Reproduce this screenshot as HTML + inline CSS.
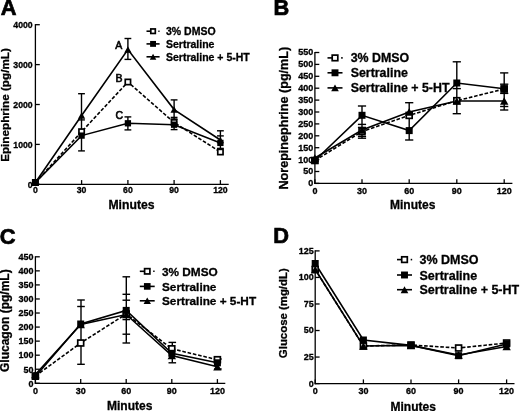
<!DOCTYPE html>
<html><head><meta charset="utf-8"><style>
html,body{margin:0;padding:0;background:#fff;}
body{width:520px;height:411px;overflow:hidden;}
svg{display:block;font-family:"Liberation Sans", sans-serif;will-change:transform;}
</style></head><body>
<svg width="520" height="411" viewBox="0 0 520 411">
<rect width="520" height="411" fill="#fff"/>
<text x="0.80" y="15.10" font-size="21.8" text-anchor="start" font-weight="bold" stroke="#000" stroke-width="0.7">A</text>
<line x1="35.40" y1="24.10" x2="35.40" y2="184.90" stroke="#000" stroke-width="1.3"/>
<line x1="34.80" y1="184.30" x2="228.70" y2="184.30" stroke="#000" stroke-width="1.3"/>
<line x1="35.40" y1="24.70" x2="39.80" y2="24.70" stroke="#000" stroke-width="1.3"/>
<text transform="translate(32.70,28.08) scale(1.0,1.08)" font-size="8.7" text-anchor="end" font-weight="bold" stroke="#000" stroke-width="0.3">4000</text>
<line x1="35.40" y1="64.60" x2="39.80" y2="64.60" stroke="#000" stroke-width="1.3"/>
<text transform="translate(32.70,67.98) scale(1.0,1.08)" font-size="8.7" text-anchor="end" font-weight="bold" stroke="#000" stroke-width="0.3">3000</text>
<line x1="35.40" y1="104.50" x2="39.80" y2="104.50" stroke="#000" stroke-width="1.3"/>
<text transform="translate(32.70,107.88) scale(1.0,1.08)" font-size="8.7" text-anchor="end" font-weight="bold" stroke="#000" stroke-width="0.3">2000</text>
<line x1="35.40" y1="144.40" x2="39.80" y2="144.40" stroke="#000" stroke-width="1.3"/>
<text transform="translate(32.70,147.78) scale(1.0,1.08)" font-size="8.7" text-anchor="end" font-weight="bold" stroke="#000" stroke-width="0.3">1000</text>
<line x1="35.40" y1="184.30" x2="39.80" y2="184.30" stroke="#000" stroke-width="1.3"/>
<text transform="translate(32.70,187.68) scale(1.0,1.08)" font-size="8.7" text-anchor="end" font-weight="bold" stroke="#000" stroke-width="0.3">0</text>
<line x1="35.40" y1="184.30" x2="35.40" y2="180.10" stroke="#000" stroke-width="1.3"/>
<text transform="translate(35.40,193.43) scale(1.0,1.08)" font-size="8.7" text-anchor="middle" font-weight="bold" stroke="#000" stroke-width="0.3">0</text>
<line x1="81.60" y1="184.30" x2="81.60" y2="180.10" stroke="#000" stroke-width="1.3"/>
<text transform="translate(81.60,193.43) scale(1.0,1.08)" font-size="8.7" text-anchor="middle" font-weight="bold" stroke="#000" stroke-width="0.3">30</text>
<line x1="127.90" y1="184.30" x2="127.90" y2="180.10" stroke="#000" stroke-width="1.3"/>
<text transform="translate(127.90,193.43) scale(1.0,1.08)" font-size="8.7" text-anchor="middle" font-weight="bold" stroke="#000" stroke-width="0.3">60</text>
<line x1="174.10" y1="184.30" x2="174.10" y2="180.10" stroke="#000" stroke-width="1.3"/>
<text transform="translate(174.10,193.43) scale(1.0,1.08)" font-size="8.7" text-anchor="middle" font-weight="bold" stroke="#000" stroke-width="0.3">90</text>
<line x1="220.40" y1="184.30" x2="220.40" y2="180.10" stroke="#000" stroke-width="1.3"/>
<text transform="translate(220.40,193.43) scale(1.0,1.08)" font-size="8.7" text-anchor="middle" font-weight="bold" stroke="#000" stroke-width="0.3">120</text>
<text transform="translate(9.00,105.00) rotate(-90)" x="0" y="0" font-size="11.7" text-anchor="middle" font-weight="bold" stroke="#000" stroke-width="0.3">Epinephrine (pg/mL)</text>
<text x="131.50" y="209.20" font-size="12.2" text-anchor="middle" font-weight="bold" stroke="#000" stroke-width="0.3">Minutes</text>
<line x1="81.50" y1="93.70" x2="81.50" y2="150.90" stroke="#000" stroke-width="1.4"/>
<line x1="78.10" y1="93.70" x2="84.90" y2="93.70" stroke="#000" stroke-width="1.4"/>
<line x1="78.10" y1="150.90" x2="84.90" y2="150.90" stroke="#000" stroke-width="1.4"/>
<line x1="78.10" y1="119.90" x2="84.90" y2="119.90" stroke="#000" stroke-width="1.4"/>
<line x1="127.90" y1="38.50" x2="127.90" y2="59.40" stroke="#000" stroke-width="1.4"/>
<line x1="124.50" y1="38.50" x2="131.30" y2="38.50" stroke="#000" stroke-width="1.4"/>
<line x1="124.50" y1="59.40" x2="131.30" y2="59.40" stroke="#000" stroke-width="1.4"/>
<line x1="127.90" y1="116.90" x2="127.90" y2="129.90" stroke="#000" stroke-width="1.4"/>
<line x1="124.50" y1="116.90" x2="131.30" y2="116.90" stroke="#000" stroke-width="1.4"/>
<line x1="124.50" y1="129.90" x2="131.30" y2="129.90" stroke="#000" stroke-width="1.4"/>
<line x1="174.10" y1="99.90" x2="174.10" y2="129.60" stroke="#000" stroke-width="1.4"/>
<line x1="170.70" y1="99.90" x2="177.50" y2="99.90" stroke="#000" stroke-width="1.4"/>
<line x1="170.70" y1="129.60" x2="177.50" y2="129.60" stroke="#000" stroke-width="1.4"/>
<line x1="170.70" y1="117.40" x2="177.50" y2="117.40" stroke="#000" stroke-width="1.4"/>
<line x1="170.70" y1="119.00" x2="177.50" y2="119.00" stroke="#000" stroke-width="1.4"/>
<line x1="220.40" y1="130.80" x2="220.40" y2="148.40" stroke="#000" stroke-width="1.4"/>
<line x1="217.00" y1="130.80" x2="223.80" y2="130.80" stroke="#000" stroke-width="1.4"/>
<line x1="217.00" y1="148.40" x2="223.80" y2="148.40" stroke="#000" stroke-width="1.4"/>
<line x1="217.00" y1="135.90" x2="223.80" y2="135.90" stroke="#000" stroke-width="1.4"/>
<polyline points="35.40,182.50 81.60,131.70 127.90,82.00 174.10,122.50 220.40,152.00" fill="none" stroke="#000" stroke-width="1.6" stroke-linejoin="miter" stroke-dasharray="3.6 1.8"/>
<polyline points="35.40,182.50 81.60,135.60 127.90,123.30 174.10,124.70 220.40,142.90" fill="none" stroke="#000" stroke-width="1.6" stroke-linejoin="miter"/>
<polyline points="35.40,182.50 81.60,115.50 127.90,49.60 174.10,109.60 220.40,140.00" fill="none" stroke="#000" stroke-width="1.6" stroke-linejoin="miter"/>
<rect x="32.75" y="179.85" width="5.30" height="5.30" fill="#fff" stroke="#000" stroke-width="1.7"/>
<rect x="78.95" y="129.05" width="5.30" height="5.30" fill="#fff" stroke="#000" stroke-width="1.7"/>
<rect x="125.25" y="79.35" width="5.30" height="5.30" fill="#fff" stroke="#000" stroke-width="1.7"/>
<rect x="171.45" y="119.85" width="5.30" height="5.30" fill="#fff" stroke="#000" stroke-width="1.7"/>
<rect x="217.75" y="149.35" width="5.30" height="5.30" fill="#fff" stroke="#000" stroke-width="1.7"/>
<rect x="32.25" y="179.35" width="6.30" height="6.30" fill="#000"/>
<rect x="78.45" y="132.45" width="6.30" height="6.30" fill="#000"/>
<rect x="124.75" y="120.15" width="6.30" height="6.30" fill="#000"/>
<rect x="170.95" y="121.55" width="6.30" height="6.30" fill="#000"/>
<rect x="217.25" y="139.75" width="6.30" height="6.30" fill="#000"/>
<polygon points="31.80,185.74 39.00,185.74 35.40,179.26" fill="#000"/>
<polygon points="78.00,118.74 85.20,118.74 81.60,112.26" fill="#000"/>
<polygon points="124.30,52.84 131.50,52.84 127.90,46.36" fill="#000"/>
<polygon points="170.50,112.84 177.70,112.84 174.10,106.36" fill="#000"/>
<polygon points="216.80,143.24 224.00,143.24 220.40,136.76" fill="#000"/>
<text x="115.30" y="48.60" font-size="10.5" text-anchor="start" font-weight="normal" stroke="#000" stroke-width="0.6">A</text>
<text x="115.40" y="81.90" font-size="10.5" text-anchor="start" font-weight="normal" stroke="#000" stroke-width="0.6">B</text>
<text x="115.60" y="118.60" font-size="10.5" text-anchor="start" font-weight="normal" stroke="#000" stroke-width="0.6">C</text>
<line x1="146.50" y1="31.20" x2="150.05" y2="31.20" stroke="#000" stroke-width="1.6"/>
<line x1="158.32" y1="31.20" x2="159.56" y2="31.20" stroke="#000" stroke-width="1.6"/>
<rect x="150.80" y="28.95" width="4.50" height="4.50" fill="#fff" stroke="#000" stroke-width="1.7"/>
<text x="166.00" y="34.98" font-size="10.5" text-anchor="start" font-weight="bold" stroke="#000" stroke-width="0.3">3% DMSO</text>
<line x1="146.50" y1="43.90" x2="159.60" y2="43.90" stroke="#000" stroke-width="1.6"/>
<rect x="150.11" y="40.95" width="5.89" height="5.89" fill="#000"/>
<text x="166.00" y="47.68" font-size="10.5" text-anchor="start" font-weight="bold" stroke="#000" stroke-width="0.3">Sertraline</text>
<line x1="146.50" y1="56.80" x2="159.60" y2="56.80" stroke="#000" stroke-width="1.6"/>
<polygon points="149.80,59.73 156.31,59.73 153.05,53.87" fill="#000"/>
<text x="166.00" y="60.58" font-size="10.5" text-anchor="start" font-weight="bold" stroke="#000" stroke-width="0.3">Sertraline + 5-HT</text>
<text x="273.40" y="15.40" font-size="21.8" text-anchor="start" font-weight="bold" stroke="#000" stroke-width="0.7">B</text>
<line x1="314.90" y1="51.90" x2="314.90" y2="184.00" stroke="#000" stroke-width="1.3"/>
<line x1="314.30" y1="183.40" x2="512.40" y2="183.40" stroke="#000" stroke-width="1.3"/>
<line x1="314.90" y1="52.50" x2="319.30" y2="52.50" stroke="#000" stroke-width="1.3"/>
<text transform="translate(313.30,55.40) scale(1.0,1.08)" font-size="9.0" text-anchor="end" font-weight="bold" stroke="#000" stroke-width="0.3">550</text>
<line x1="314.90" y1="64.40" x2="319.30" y2="64.40" stroke="#000" stroke-width="1.3"/>
<text transform="translate(313.30,67.30) scale(1.0,1.08)" font-size="9.0" text-anchor="end" font-weight="bold" stroke="#000" stroke-width="0.3">500</text>
<line x1="314.90" y1="76.30" x2="319.30" y2="76.30" stroke="#000" stroke-width="1.3"/>
<text transform="translate(313.30,79.20) scale(1.0,1.08)" font-size="9.0" text-anchor="end" font-weight="bold" stroke="#000" stroke-width="0.3">450</text>
<line x1="314.90" y1="88.20" x2="319.30" y2="88.20" stroke="#000" stroke-width="1.3"/>
<text transform="translate(313.30,91.10) scale(1.0,1.08)" font-size="9.0" text-anchor="end" font-weight="bold" stroke="#000" stroke-width="0.3">400</text>
<line x1="314.90" y1="100.10" x2="319.30" y2="100.10" stroke="#000" stroke-width="1.3"/>
<text transform="translate(313.30,103.00) scale(1.0,1.08)" font-size="9.0" text-anchor="end" font-weight="bold" stroke="#000" stroke-width="0.3">350</text>
<line x1="314.90" y1="112.00" x2="319.30" y2="112.00" stroke="#000" stroke-width="1.3"/>
<text transform="translate(313.30,114.90) scale(1.0,1.08)" font-size="9.0" text-anchor="end" font-weight="bold" stroke="#000" stroke-width="0.3">300</text>
<line x1="314.90" y1="123.90" x2="319.30" y2="123.90" stroke="#000" stroke-width="1.3"/>
<text transform="translate(313.30,126.80) scale(1.0,1.08)" font-size="9.0" text-anchor="end" font-weight="bold" stroke="#000" stroke-width="0.3">250</text>
<line x1="314.90" y1="135.80" x2="319.30" y2="135.80" stroke="#000" stroke-width="1.3"/>
<text transform="translate(313.30,138.70) scale(1.0,1.08)" font-size="9.0" text-anchor="end" font-weight="bold" stroke="#000" stroke-width="0.3">200</text>
<line x1="314.90" y1="147.70" x2="319.30" y2="147.70" stroke="#000" stroke-width="1.3"/>
<text transform="translate(313.30,150.60) scale(1.0,1.08)" font-size="9.0" text-anchor="end" font-weight="bold" stroke="#000" stroke-width="0.3">150</text>
<line x1="314.90" y1="159.60" x2="319.30" y2="159.60" stroke="#000" stroke-width="1.3"/>
<text transform="translate(313.30,162.50) scale(1.0,1.08)" font-size="9.0" text-anchor="end" font-weight="bold" stroke="#000" stroke-width="0.3">100</text>
<line x1="314.90" y1="171.50" x2="319.30" y2="171.50" stroke="#000" stroke-width="1.3"/>
<text transform="translate(313.30,174.40) scale(1.0,1.08)" font-size="9.0" text-anchor="end" font-weight="bold" stroke="#000" stroke-width="0.3">50</text>
<line x1="314.90" y1="183.40" x2="319.30" y2="183.40" stroke="#000" stroke-width="1.3"/>
<text transform="translate(313.30,186.30) scale(1.0,1.08)" font-size="9.0" text-anchor="end" font-weight="bold" stroke="#000" stroke-width="0.3">0</text>
<line x1="314.90" y1="183.40" x2="314.90" y2="179.20" stroke="#000" stroke-width="1.3"/>
<text transform="translate(314.90,193.66) scale(1.0,1.08)" font-size="9.0" text-anchor="middle" font-weight="bold" stroke="#000" stroke-width="0.3">0</text>
<line x1="362.00" y1="183.40" x2="362.00" y2="179.20" stroke="#000" stroke-width="1.3"/>
<text transform="translate(362.00,193.66) scale(1.0,1.08)" font-size="9.0" text-anchor="middle" font-weight="bold" stroke="#000" stroke-width="0.3">30</text>
<line x1="409.20" y1="183.40" x2="409.20" y2="179.20" stroke="#000" stroke-width="1.3"/>
<text transform="translate(409.20,193.66) scale(1.0,1.08)" font-size="9.0" text-anchor="middle" font-weight="bold" stroke="#000" stroke-width="0.3">60</text>
<line x1="456.80" y1="183.40" x2="456.80" y2="179.20" stroke="#000" stroke-width="1.3"/>
<text transform="translate(456.80,193.66) scale(1.0,1.08)" font-size="9.0" text-anchor="middle" font-weight="bold" stroke="#000" stroke-width="0.3">90</text>
<line x1="504.20" y1="183.40" x2="504.20" y2="179.20" stroke="#000" stroke-width="1.3"/>
<text transform="translate(504.20,193.66) scale(1.0,1.08)" font-size="9.0" text-anchor="middle" font-weight="bold" stroke="#000" stroke-width="0.3">120</text>
<text transform="translate(288.30,118.20) rotate(-90)" x="0" y="0" font-size="12.6" text-anchor="middle" font-weight="bold" stroke="#000" stroke-width="0.3">Norepinephrine (pg/mL)</text>
<text x="412.70" y="208.60" font-size="12.0" text-anchor="middle" font-weight="bold" stroke="#000" stroke-width="0.3">Minutes</text>
<line x1="362.00" y1="106.00" x2="362.00" y2="138.20" stroke="#000" stroke-width="1.4"/>
<line x1="357.90" y1="106.00" x2="366.10" y2="106.00" stroke="#000" stroke-width="1.4"/>
<line x1="357.90" y1="138.20" x2="366.10" y2="138.20" stroke="#000" stroke-width="1.4"/>
<line x1="357.90" y1="124.40" x2="366.10" y2="124.40" stroke="#000" stroke-width="1.4"/>
<line x1="357.90" y1="127.40" x2="366.10" y2="127.40" stroke="#000" stroke-width="1.4"/>
<line x1="357.90" y1="136.40" x2="366.10" y2="136.40" stroke="#000" stroke-width="1.4"/>
<line x1="409.20" y1="102.70" x2="409.20" y2="140.00" stroke="#000" stroke-width="1.4"/>
<line x1="405.10" y1="102.70" x2="413.30" y2="102.70" stroke="#000" stroke-width="1.4"/>
<line x1="405.10" y1="140.00" x2="413.30" y2="140.00" stroke="#000" stroke-width="1.4"/>
<line x1="456.80" y1="61.80" x2="456.80" y2="113.70" stroke="#000" stroke-width="1.4"/>
<line x1="452.70" y1="61.80" x2="460.90" y2="61.80" stroke="#000" stroke-width="1.4"/>
<line x1="452.70" y1="113.70" x2="460.90" y2="113.70" stroke="#000" stroke-width="1.4"/>
<line x1="452.70" y1="88.60" x2="460.90" y2="88.60" stroke="#000" stroke-width="1.4"/>
<line x1="504.20" y1="72.90" x2="504.20" y2="110.00" stroke="#000" stroke-width="1.4"/>
<line x1="500.10" y1="72.90" x2="508.30" y2="72.90" stroke="#000" stroke-width="1.4"/>
<line x1="500.10" y1="110.00" x2="508.30" y2="110.00" stroke="#000" stroke-width="1.4"/>
<line x1="500.10" y1="84.20" x2="508.30" y2="84.20" stroke="#000" stroke-width="1.4"/>
<line x1="500.10" y1="93.40" x2="508.30" y2="93.40" stroke="#000" stroke-width="1.4"/>
<line x1="500.10" y1="106.50" x2="508.30" y2="106.50" stroke="#000" stroke-width="1.4"/>
<polyline points="314.90,160.50 362.00,131.60 409.20,115.40 456.80,100.70 504.20,89.00" fill="none" stroke="#000" stroke-width="1.6" stroke-linejoin="miter" stroke-dasharray="3.6 1.8"/>
<polyline points="314.90,160.50 362.00,115.30 409.20,130.60 456.80,83.00 504.20,88.80" fill="none" stroke="#000" stroke-width="1.6" stroke-linejoin="miter"/>
<polyline points="314.90,158.00 362.00,130.00 409.20,111.90 456.80,101.00 504.20,101.00" fill="none" stroke="#000" stroke-width="1.6" stroke-linejoin="miter"/>
<rect x="311.95" y="157.55" width="5.90" height="5.90" fill="#fff" stroke="#000" stroke-width="1.7"/>
<rect x="359.05" y="128.65" width="5.90" height="5.90" fill="#fff" stroke="#000" stroke-width="1.7"/>
<rect x="406.25" y="112.45" width="5.90" height="5.90" fill="#fff" stroke="#000" stroke-width="1.7"/>
<rect x="453.85" y="97.75" width="5.90" height="5.90" fill="#fff" stroke="#000" stroke-width="1.7"/>
<rect x="501.25" y="86.05" width="5.90" height="5.90" fill="#fff" stroke="#000" stroke-width="1.7"/>
<polygon points="310.70,161.78 319.10,161.78 314.90,154.22" fill="#000"/>
<polygon points="357.80,133.78 366.20,133.78 362.00,126.22" fill="#000"/>
<polygon points="405.00,115.68 413.40,115.68 409.20,108.12" fill="#000"/>
<polygon points="452.60,104.78 461.00,104.78 456.80,97.22" fill="#000"/>
<polygon points="500.00,104.78 508.40,104.78 504.20,97.22" fill="#000"/>
<rect x="311.40" y="157.00" width="7.00" height="7.00" fill="#000"/>
<rect x="358.50" y="111.80" width="7.00" height="7.00" fill="#000"/>
<rect x="405.70" y="127.10" width="7.00" height="7.00" fill="#000"/>
<rect x="453.30" y="79.50" width="7.00" height="7.00" fill="#000"/>
<rect x="500.70" y="85.30" width="7.00" height="7.00" fill="#000"/>
<line x1="327.50" y1="57.90" x2="332.00" y2="57.90" stroke="#000" stroke-width="1.6"/>
<line x1="341.20" y1="57.90" x2="342.67" y2="57.90" stroke="#000" stroke-width="1.6"/>
<rect x="332.20" y="55.10" width="5.60" height="5.60" fill="#fff" stroke="#000" stroke-width="1.7"/>
<text x="350.70" y="62.36" font-size="12.4" text-anchor="start" font-weight="bold" stroke="#000" stroke-width="0.3">3% DMSO</text>
<line x1="327.50" y1="72.80" x2="342.50" y2="72.80" stroke="#000" stroke-width="1.6"/>
<rect x="331.53" y="69.33" width="6.93" height="6.93" fill="#000"/>
<text x="350.70" y="77.26" font-size="12.4" text-anchor="start" font-weight="bold" stroke="#000" stroke-width="0.3">Sertraline</text>
<line x1="327.50" y1="87.90" x2="342.50" y2="87.90" stroke="#000" stroke-width="1.6"/>
<polygon points="331.17,91.35 338.83,91.35 335.00,84.45" fill="#000"/>
<text x="350.70" y="92.36" font-size="12.4" text-anchor="start" font-weight="bold" stroke="#000" stroke-width="0.3">Sertraline + 5-HT</text>
<text x="-0.20" y="244.10" font-size="21.8" text-anchor="start" font-weight="bold" stroke="#000" stroke-width="0.7">C</text>
<line x1="35.40" y1="256.20" x2="35.40" y2="383.90" stroke="#000" stroke-width="1.3"/>
<line x1="34.80" y1="383.30" x2="225.30" y2="383.30" stroke="#000" stroke-width="1.3"/>
<line x1="35.40" y1="256.80" x2="39.80" y2="256.80" stroke="#000" stroke-width="1.3"/>
<text transform="translate(33.60,260.10) scale(1.0,1.08)" font-size="9.0" text-anchor="end" font-weight="bold" stroke="#000" stroke-width="0.3">450</text>
<line x1="35.40" y1="270.86" x2="39.80" y2="270.86" stroke="#000" stroke-width="1.3"/>
<text transform="translate(33.60,274.15) scale(1.0,1.08)" font-size="9.0" text-anchor="end" font-weight="bold" stroke="#000" stroke-width="0.3">400</text>
<line x1="35.40" y1="284.91" x2="39.80" y2="284.91" stroke="#000" stroke-width="1.3"/>
<text transform="translate(33.60,288.21) scale(1.0,1.08)" font-size="9.0" text-anchor="end" font-weight="bold" stroke="#000" stroke-width="0.3">350</text>
<line x1="35.40" y1="298.97" x2="39.80" y2="298.97" stroke="#000" stroke-width="1.3"/>
<text transform="translate(33.60,302.27) scale(1.0,1.08)" font-size="9.0" text-anchor="end" font-weight="bold" stroke="#000" stroke-width="0.3">300</text>
<line x1="35.40" y1="313.02" x2="39.80" y2="313.02" stroke="#000" stroke-width="1.3"/>
<text transform="translate(33.60,316.32) scale(1.0,1.08)" font-size="9.0" text-anchor="end" font-weight="bold" stroke="#000" stroke-width="0.3">250</text>
<line x1="35.40" y1="327.08" x2="39.80" y2="327.08" stroke="#000" stroke-width="1.3"/>
<text transform="translate(33.60,330.38) scale(1.0,1.08)" font-size="9.0" text-anchor="end" font-weight="bold" stroke="#000" stroke-width="0.3">200</text>
<line x1="35.40" y1="341.13" x2="39.80" y2="341.13" stroke="#000" stroke-width="1.3"/>
<text transform="translate(33.60,344.43) scale(1.0,1.08)" font-size="9.0" text-anchor="end" font-weight="bold" stroke="#000" stroke-width="0.3">150</text>
<line x1="35.40" y1="355.19" x2="39.80" y2="355.19" stroke="#000" stroke-width="1.3"/>
<text transform="translate(33.60,358.49) scale(1.0,1.08)" font-size="9.0" text-anchor="end" font-weight="bold" stroke="#000" stroke-width="0.3">100</text>
<line x1="35.40" y1="369.24" x2="39.80" y2="369.24" stroke="#000" stroke-width="1.3"/>
<text transform="translate(33.60,372.54) scale(1.0,1.08)" font-size="9.0" text-anchor="end" font-weight="bold" stroke="#000" stroke-width="0.3">50</text>
<line x1="35.40" y1="383.30" x2="39.80" y2="383.30" stroke="#000" stroke-width="1.3"/>
<text transform="translate(33.60,386.60) scale(1.0,1.08)" font-size="9.0" text-anchor="end" font-weight="bold" stroke="#000" stroke-width="0.3">0</text>
<line x1="35.40" y1="383.30" x2="35.40" y2="379.10" stroke="#000" stroke-width="1.3"/>
<text transform="translate(35.40,393.56) scale(1.0,1.08)" font-size="9.0" text-anchor="middle" font-weight="bold" stroke="#000" stroke-width="0.3">0</text>
<line x1="80.70" y1="383.30" x2="80.70" y2="379.10" stroke="#000" stroke-width="1.3"/>
<text transform="translate(80.70,393.56) scale(1.0,1.08)" font-size="9.0" text-anchor="middle" font-weight="bold" stroke="#000" stroke-width="0.3">30</text>
<line x1="126.20" y1="383.30" x2="126.20" y2="379.10" stroke="#000" stroke-width="1.3"/>
<text transform="translate(126.20,393.56) scale(1.0,1.08)" font-size="9.0" text-anchor="middle" font-weight="bold" stroke="#000" stroke-width="0.3">60</text>
<line x1="171.80" y1="383.30" x2="171.80" y2="379.10" stroke="#000" stroke-width="1.3"/>
<text transform="translate(171.80,393.56) scale(1.0,1.08)" font-size="9.0" text-anchor="middle" font-weight="bold" stroke="#000" stroke-width="0.3">90</text>
<line x1="217.40" y1="383.30" x2="217.40" y2="379.10" stroke="#000" stroke-width="1.3"/>
<text transform="translate(217.40,393.56) scale(1.0,1.08)" font-size="9.0" text-anchor="middle" font-weight="bold" stroke="#000" stroke-width="0.3">120</text>
<text transform="translate(8.80,320.70) rotate(-90)" x="0" y="0" font-size="12.0" text-anchor="middle" font-weight="bold" stroke="#000" stroke-width="0.3">Glucagon (pg/mL)</text>
<text x="129.70" y="409.70" font-size="12.0" text-anchor="middle" font-weight="bold" stroke="#000" stroke-width="0.3">Minutes</text>
<line x1="81.00" y1="300.00" x2="81.00" y2="364.30" stroke="#000" stroke-width="1.4"/>
<line x1="77.20" y1="300.00" x2="84.80" y2="300.00" stroke="#000" stroke-width="1.4"/>
<line x1="77.20" y1="364.30" x2="84.80" y2="364.30" stroke="#000" stroke-width="1.4"/>
<line x1="77.20" y1="306.50" x2="84.80" y2="306.50" stroke="#000" stroke-width="1.4"/>
<line x1="126.30" y1="276.80" x2="126.30" y2="343.00" stroke="#000" stroke-width="1.4"/>
<line x1="122.50" y1="276.80" x2="130.10" y2="276.80" stroke="#000" stroke-width="1.4"/>
<line x1="122.50" y1="343.00" x2="130.10" y2="343.00" stroke="#000" stroke-width="1.4"/>
<line x1="122.50" y1="294.30" x2="130.10" y2="294.30" stroke="#000" stroke-width="1.4"/>
<line x1="122.50" y1="300.20" x2="130.10" y2="300.20" stroke="#000" stroke-width="1.4"/>
<line x1="122.50" y1="319.60" x2="130.10" y2="319.60" stroke="#000" stroke-width="1.4"/>
<line x1="122.50" y1="334.20" x2="130.10" y2="334.20" stroke="#000" stroke-width="1.4"/>
<line x1="172.30" y1="342.40" x2="172.30" y2="362.80" stroke="#000" stroke-width="1.4"/>
<line x1="168.50" y1="342.40" x2="176.10" y2="342.40" stroke="#000" stroke-width="1.4"/>
<line x1="168.50" y1="362.80" x2="176.10" y2="362.80" stroke="#000" stroke-width="1.4"/>
<line x1="217.90" y1="359.00" x2="217.90" y2="369.00" stroke="#000" stroke-width="1.4"/>
<line x1="214.10" y1="359.00" x2="221.70" y2="359.00" stroke="#000" stroke-width="1.4"/>
<line x1="214.10" y1="369.00" x2="221.70" y2="369.00" stroke="#000" stroke-width="1.4"/>
<polyline points="35.40,376.00 80.70,343.00 126.20,314.00 171.80,348.80 217.40,359.70" fill="none" stroke="#000" stroke-width="1.6" stroke-linejoin="miter" stroke-dasharray="3.6 1.8"/>
<polyline points="35.40,376.50 80.70,324.00 126.20,310.40 171.80,353.30 217.40,362.80" fill="none" stroke="#000" stroke-width="1.6" stroke-linejoin="miter"/>
<polyline points="35.40,374.50 80.70,324.50 126.20,314.50 171.80,355.50 217.40,366.80" fill="none" stroke="#000" stroke-width="1.6" stroke-linejoin="miter"/>
<rect x="32.45" y="373.05" width="5.90" height="5.90" fill="#fff" stroke="#000" stroke-width="1.7"/>
<rect x="77.75" y="340.05" width="5.90" height="5.90" fill="#fff" stroke="#000" stroke-width="1.7"/>
<rect x="123.25" y="311.05" width="5.90" height="5.90" fill="#fff" stroke="#000" stroke-width="1.7"/>
<rect x="168.85" y="345.85" width="5.90" height="5.90" fill="#fff" stroke="#000" stroke-width="1.7"/>
<rect x="214.45" y="356.75" width="5.90" height="5.90" fill="#fff" stroke="#000" stroke-width="1.7"/>
<polygon points="31.20,378.28 39.60,378.28 35.40,370.72" fill="#000"/>
<polygon points="76.50,328.28 84.90,328.28 80.70,320.72" fill="#000"/>
<polygon points="122.00,318.28 130.40,318.28 126.20,310.72" fill="#000"/>
<polygon points="167.60,359.28 176.00,359.28 171.80,351.72" fill="#000"/>
<polygon points="213.20,370.58 221.60,370.58 217.40,363.02" fill="#000"/>
<rect x="31.90" y="373.00" width="7.00" height="7.00" fill="#000"/>
<rect x="77.20" y="320.50" width="7.00" height="7.00" fill="#000"/>
<rect x="122.70" y="306.90" width="7.00" height="7.00" fill="#000"/>
<rect x="168.30" y="349.80" width="7.00" height="7.00" fill="#000"/>
<rect x="213.90" y="359.30" width="7.00" height="7.00" fill="#000"/>
<line x1="139.80" y1="271.30" x2="144.25" y2="271.30" stroke="#000" stroke-width="1.6"/>
<line x1="153.20" y1="271.30" x2="154.60" y2="271.30" stroke="#000" stroke-width="1.6"/>
<rect x="144.60" y="268.65" width="5.30" height="5.30" fill="#fff" stroke="#000" stroke-width="1.7"/>
<text x="162.00" y="275.55" font-size="11.8" text-anchor="start" font-weight="bold" stroke="#000" stroke-width="0.3">3% DMSO</text>
<line x1="139.80" y1="286.40" x2="154.70" y2="286.40" stroke="#000" stroke-width="1.6"/>
<rect x="143.93" y="283.07" width="6.65" height="6.65" fill="#000"/>
<text x="162.00" y="290.65" font-size="11.8" text-anchor="start" font-weight="bold" stroke="#000" stroke-width="0.3">Sertraline</text>
<line x1="139.80" y1="300.80" x2="154.70" y2="300.80" stroke="#000" stroke-width="1.6"/>
<polygon points="143.57,304.11 150.93,304.11 147.25,297.49" fill="#000"/>
<text x="162.00" y="305.05" font-size="11.8" text-anchor="start" font-weight="bold" stroke="#000" stroke-width="0.3">Sertraline + 5-HT</text>
<text x="273.20" y="243.40" font-size="21.8" text-anchor="start" font-weight="bold" stroke="#000" stroke-width="0.7">D</text>
<line x1="315.20" y1="250.30" x2="315.20" y2="384.20" stroke="#000" stroke-width="1.3"/>
<line x1="314.60" y1="383.60" x2="514.50" y2="383.60" stroke="#000" stroke-width="1.3"/>
<line x1="315.20" y1="250.90" x2="319.60" y2="250.90" stroke="#000" stroke-width="1.3"/>
<text transform="translate(313.80,253.80) scale(1.0,1.08)" font-size="9.0" text-anchor="end" font-weight="bold" stroke="#000" stroke-width="0.3">125</text>
<line x1="315.20" y1="277.44" x2="319.60" y2="277.44" stroke="#000" stroke-width="1.3"/>
<text transform="translate(313.80,280.34) scale(1.0,1.08)" font-size="9.0" text-anchor="end" font-weight="bold" stroke="#000" stroke-width="0.3">100</text>
<line x1="315.20" y1="303.98" x2="319.60" y2="303.98" stroke="#000" stroke-width="1.3"/>
<text transform="translate(313.80,306.88) scale(1.0,1.08)" font-size="9.0" text-anchor="end" font-weight="bold" stroke="#000" stroke-width="0.3">75</text>
<line x1="315.20" y1="330.52" x2="319.60" y2="330.52" stroke="#000" stroke-width="1.3"/>
<text transform="translate(313.80,333.42) scale(1.0,1.08)" font-size="9.0" text-anchor="end" font-weight="bold" stroke="#000" stroke-width="0.3">50</text>
<line x1="315.20" y1="357.06" x2="319.60" y2="357.06" stroke="#000" stroke-width="1.3"/>
<text transform="translate(313.80,359.96) scale(1.0,1.08)" font-size="9.0" text-anchor="end" font-weight="bold" stroke="#000" stroke-width="0.3">25</text>
<line x1="315.20" y1="383.60" x2="319.60" y2="383.60" stroke="#000" stroke-width="1.3"/>
<text transform="translate(313.80,386.50) scale(1.0,1.08)" font-size="9.0" text-anchor="end" font-weight="bold" stroke="#000" stroke-width="0.3">0</text>
<line x1="315.20" y1="383.60" x2="315.20" y2="379.40" stroke="#000" stroke-width="1.3"/>
<text transform="translate(315.20,393.76) scale(1.0,1.08)" font-size="9.0" text-anchor="middle" font-weight="bold" stroke="#000" stroke-width="0.3">0</text>
<line x1="363.40" y1="383.60" x2="363.40" y2="379.40" stroke="#000" stroke-width="1.3"/>
<text transform="translate(363.40,393.76) scale(1.0,1.08)" font-size="9.0" text-anchor="middle" font-weight="bold" stroke="#000" stroke-width="0.3">30</text>
<line x1="411.00" y1="383.60" x2="411.00" y2="379.40" stroke="#000" stroke-width="1.3"/>
<text transform="translate(411.00,393.76) scale(1.0,1.08)" font-size="9.0" text-anchor="middle" font-weight="bold" stroke="#000" stroke-width="0.3">60</text>
<line x1="458.60" y1="383.60" x2="458.60" y2="379.40" stroke="#000" stroke-width="1.3"/>
<text transform="translate(458.60,393.76) scale(1.0,1.08)" font-size="9.0" text-anchor="middle" font-weight="bold" stroke="#000" stroke-width="0.3">90</text>
<line x1="506.60" y1="383.60" x2="506.60" y2="379.40" stroke="#000" stroke-width="1.3"/>
<text transform="translate(506.60,393.76) scale(1.0,1.08)" font-size="9.0" text-anchor="middle" font-weight="bold" stroke="#000" stroke-width="0.3">120</text>
<text transform="translate(287.00,313.20) rotate(-90)" x="0" y="0" font-size="11.4" text-anchor="middle" font-weight="bold" stroke="#000" stroke-width="0.3">Glucose (mg/dL)</text>
<text x="413.20" y="411.00" font-size="12.0" text-anchor="middle" font-weight="bold" stroke="#000" stroke-width="0.3">Minutes</text>
<polyline points="315.20,269.50 363.40,346.00 411.00,345.00 458.60,348.00 506.60,343.00" fill="none" stroke="#000" stroke-width="1.6" stroke-linejoin="miter" stroke-dasharray="3.6 1.8"/>
<polyline points="315.20,263.50 363.40,340.00 411.00,345.40 458.60,355.70 506.60,344.00" fill="none" stroke="#000" stroke-width="1.6" stroke-linejoin="miter"/>
<polyline points="315.20,269.50 363.40,346.00 411.00,345.40 458.60,355.00 506.60,346.50" fill="none" stroke="#000" stroke-width="1.6" stroke-linejoin="miter"/>
<rect x="312.25" y="266.55" width="5.90" height="5.90" fill="#fff" stroke="#000" stroke-width="1.7"/>
<rect x="360.45" y="343.05" width="5.90" height="5.90" fill="#fff" stroke="#000" stroke-width="1.7"/>
<rect x="408.05" y="342.05" width="5.90" height="5.90" fill="#fff" stroke="#000" stroke-width="1.7"/>
<rect x="455.65" y="345.05" width="5.90" height="5.90" fill="#fff" stroke="#000" stroke-width="1.7"/>
<rect x="503.65" y="340.05" width="5.90" height="5.90" fill="#fff" stroke="#000" stroke-width="1.7"/>
<polygon points="311.00,273.28 319.40,273.28 315.20,265.72" fill="#000"/>
<polygon points="359.20,349.78 367.60,349.78 363.40,342.22" fill="#000"/>
<polygon points="406.80,349.18 415.20,349.18 411.00,341.62" fill="#000"/>
<polygon points="454.40,358.78 462.80,358.78 458.60,351.22" fill="#000"/>
<polygon points="502.40,350.28 510.80,350.28 506.60,342.72" fill="#000"/>
<rect x="311.70" y="260.00" width="7.00" height="7.00" fill="#000"/>
<rect x="359.90" y="336.50" width="7.00" height="7.00" fill="#000"/>
<rect x="407.50" y="341.90" width="7.00" height="7.00" fill="#000"/>
<rect x="455.10" y="352.20" width="7.00" height="7.00" fill="#000"/>
<rect x="503.10" y="340.50" width="7.00" height="7.00" fill="#000"/>
<line x1="397.00" y1="259.60" x2="401.50" y2="259.60" stroke="#000" stroke-width="1.6"/>
<line x1="410.70" y1="259.60" x2="412.17" y2="259.60" stroke="#000" stroke-width="1.6"/>
<rect x="401.70" y="256.80" width="5.60" height="5.60" fill="#fff" stroke="#000" stroke-width="1.7"/>
<text x="419.50" y="264.10" font-size="12.5" text-anchor="start" font-weight="bold" stroke="#000" stroke-width="0.3">3% DMSO</text>
<line x1="397.00" y1="275.00" x2="412.00" y2="275.00" stroke="#000" stroke-width="1.6"/>
<rect x="401.03" y="271.53" width="6.93" height="6.93" fill="#000"/>
<text x="419.50" y="279.50" font-size="12.5" text-anchor="start" font-weight="bold" stroke="#000" stroke-width="0.3">Sertraline</text>
<line x1="397.00" y1="289.70" x2="412.00" y2="289.70" stroke="#000" stroke-width="1.6"/>
<polygon points="400.67,293.15 408.33,293.15 404.50,286.25" fill="#000"/>
<text x="419.50" y="294.20" font-size="12.5" text-anchor="start" font-weight="bold" stroke="#000" stroke-width="0.3">Sertraline + 5-HT</text>
</svg>
</body></html>
